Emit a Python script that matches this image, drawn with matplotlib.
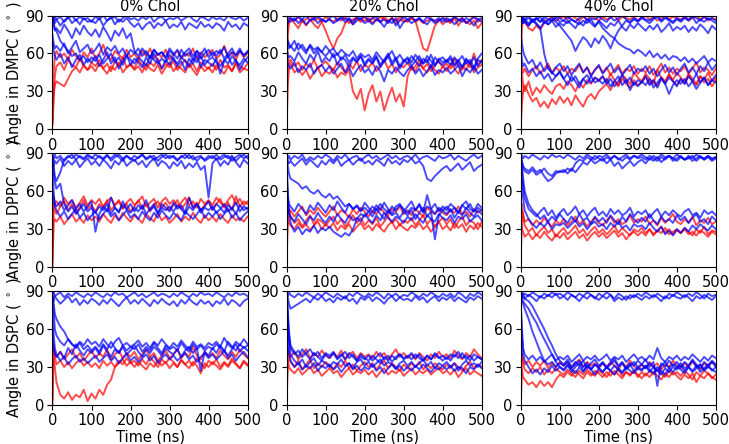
import numpy as np
import matplotlib
matplotlib.use("Agg")
import matplotlib.pyplot as plt

# sampling times (ns) used for every trace below
T = [0, 3, 6] + list(range(10, 501, 10))

lipids = ["DMPC", "DPPC", "DSPC"]
chol = ["0% Chol", "20% Chol", "40% Chol"]

# ---- DMPC ----
dmpc_0_red = [
    [3, 25, 42, 50, 53, 47, 55, 51, 49, 56, 50, 47, 53, 50, 55, 48, 52, 46, 54, 50, 57, 49, 52,
     48, 55, 51, 47, 53, 50, 56, 48, 52, 49, 54, 47, 51, 55, 49, 52, 46, 53, 50, 48,
     52, 47, 55, 49, 51, 46, 53, 50, 48, 52],
    [8, 45, 58, 62, 57, 60, 55, 63, 58, 54, 61, 57, 64, 56, 60, 67, 58, 55, 62, 59, 56, 63, 57,
     60, 55, 62, 58, 64, 56, 60, 57, 63, 55, 59, 62, 56, 60, 58, 64, 55, 61, 57, 60,
     63, 56, 59, 66, 58, 61, 55, 62, 57, 60],
    [5, 28, 35, 38, 36, 34, 40, 46, 49, 45, 51, 47, 50, 46, 52, 48, 44, 50, 47, 53, 45, 49, 51,
     47, 50, 45, 52, 48, 46, 51, 44, 49, 53, 46, 50, 48, 45, 52, 47, 43, 50, 46, 49,
     45, 51, 47, 44, 50, 46, 52, 45, 48, 47],
]
dmpc_0_blue = [
    [88, 86, 89, 87, 89, 85, 88, 90, 86, 89, 87, 88, 85, 89, 87, 90, 86, 88, 89, 85, 88, 90, 87,
     88, 86, 89, 87, 90, 85, 88, 89, 86, 88, 87, 89, 86, 88, 90, 87, 85, 89, 88, 86,
     89, 87, 88, 86, 90, 88, 87, 89, 86, 88],
    [85, 88, 84, 87, 82, 86, 89, 84, 87, 83, 88, 85, 86, 84, 88, 82, 86, 89, 83, 87, 85, 88, 84,
     81, 84, 79, 83, 85, 80, 84, 82, 86, 80, 83, 81, 85, 79, 84, 82, 80, 85, 81, 83,
     80, 84, 82, 78, 85, 81, 83, 79, 84, 82],
    [90, 82, 78, 80, 76, 83, 78, 72, 80, 75, 82, 77, 74, 79, 73, 81, 76, 70, 78, 74, 80, 72, 76,
     62, 58, 64, 60, 56, 63, 59, 61, 57, 64, 60, 56, 63, 58, 61, 55, 62, 59, 64, 57,
     61, 58, 63, 56, 60, 64, 58, 62, 59, 61],
    [90, 85, 80, 78, 70, 66, 62, 58, 60, 55, 58, 53, 57, 54, 59, 52, 56, 60, 53, 57, 51, 58, 55,
     52, 57, 54, 50, 58, 55, 52, 56, 53, 59, 55, 52, 57, 54, 50, 56, 53, 58, 51, 55,
     57, 53, 50, 55, 52, 58, 54, 51, 56, 53],
    [70, 62, 58, 55, 60, 52, 57, 49, 55, 59, 51, 56, 53, 58, 50, 55, 61, 52, 57, 48, 54, 59, 51,
     56, 53, 49, 57, 52, 60, 54, 48, 55, 51, 57, 50, 54, 47, 56, 52, 59, 49, 55, 53,
     50, 56, 44, 54, 58, 51, 55, 47, 53, 57],
    [75, 68, 64, 66, 62, 68, 60, 65, 70, 61, 64, 67, 60, 63, 68, 59, 65, 62, 66, 60, 64, 58, 63,
     60, 64, 58, 62, 57, 63, 59, 61, 56, 62, 59, 63, 57, 61, 64, 58, 62, 56, 60, 63,
     58, 62, 60, 65, 57, 61, 59, 64, 58, 62],
]
dmpc_20_red = [
    [50, 75, 85, 88, 84, 80, 86, 82, 87, 83, 80, 85, 78, 70, 64, 72, 76, 84, 87, 83, 88, 85, 86,
     88, 84, 87, 85, 89, 86, 88, 84, 87, 85, 86, 88, 85, 87, 84, 86, 88, 85, 87, 83,
     86, 84, 88, 82, 87, 85, 83, 86, 80, 84],
    [60, 80, 86, 88, 86, 89, 85, 87, 90, 86, 88, 85, 89, 87, 85, 88, 86, 89, 84, 87, 88, 86, 89,
     85, 88, 86, 89, 87, 85, 88, 86, 89, 87, 85, 88, 86, 75, 64, 62, 72, 82, 86, 88,
     87, 85, 89, 86, 88, 84, 87, 89, 85, 87],
    [0, 35, 48, 52, 45, 48, 43, 47, 40, 45, 49, 42, 46, 44, 48, 41, 45, 43, 47, 30, 24, 32, 15,
     28, 35, 22, 30, 15, 25, 33, 22, 28, 18, 42, 50, 46, 52, 48, 45, 51, 47, 44, 50,
     46, 52, 48, 44, 50, 47, 53, 45, 49, 51],
    [5, 58, 52, 55, 50, 53, 47, 52, 49, 55, 48, 51, 54, 50, 47, 53, 49, 45, 52, 48, 54, 46, 51,
     49, 53, 46, 50, 55, 48, 52, 45, 51, 49, 53, 47, 50, 55, 48, 52, 46, 51, 54, 49,
     52, 48, 56, 50, 47, 53, 49, 60, 51, 55],
]
dmpc_20_blue = [
    [85, 89, 87, 88, 86, 89, 87, 90, 86, 88, 89, 87, 85, 88, 90, 86, 89, 87, 88, 85, 89, 87, 90,
     86, 88, 89, 85, 87, 84, 88, 82, 86, 89, 87, 89, 86, 88, 85, 89, 87, 86, 88, 85,
     88, 86, 89, 87, 85, 88, 86, 89, 87, 88],
    [90, 84, 86, 85, 88, 84, 87, 83, 86, 88, 84, 87, 85, 87, 84, 86, 88, 85, 87, 83, 86, 88, 84,
     86, 83, 87, 85, 81, 86, 84, 88, 80, 85, 87, 84, 86, 88, 85, 83, 87, 84, 86, 88,
     85, 87, 83, 86, 88, 84, 86, 82, 87, 85],
    [75, 68, 64, 66, 62, 68, 64, 60, 67, 63, 65, 61, 66, 62, 64, 59, 63, 60, 58, 62, 56, 60, 57,
     59, 55, 61, 57, 53, 58, 62, 55, 59, 54, 57, 53, 59, 55, 52, 58, 54, 50, 56, 53,
     55, 51, 57, 53, 49, 55, 52, 57, 50, 54],
    [65, 60, 57, 58, 54, 61, 56, 52, 59, 55, 62, 53, 57, 54, 60, 51, 57, 55, 49, 56, 53, 58, 50,
     55, 52, 57, 49, 54, 58, 51, 55, 48, 53, 56, 50, 54, 58, 52, 55, 49, 57, 53, 51,
     54, 58, 51, 55, 49, 56, 52, 47, 55, 53],
    [60, 52, 50, 48, 53, 45, 50, 47, 52, 44, 49, 51, 46, 50, 44, 48, 52, 45, 49, 42, 47, 51, 45,
     48, 43, 50, 46, 38, 47, 44, 49, 45, 42, 47, 50, 44, 48, 42, 46, 50, 43, 47, 45,
     49, 44, 47, 51, 42, 48, 45, 50, 44, 47],
    [72, 70, 68, 65, 70, 63, 67, 62, 66, 60, 64, 61, 58, 62, 57, 60, 55, 59, 53, 57, 54, 58, 52,
     56, 53, 58, 51, 55, 60, 53, 57, 50, 55, 52, 58, 54, 50, 56, 53, 59, 51, 55, 57,
     53, 56, 50, 54, 58, 52, 55, 49, 56, 60],
]
dmpc_40_red = [
    [60, 80, 88, 85, 80, 78, 82, 79, 84, 87, 89, 86, 88, 89, 87, 90, 88, 86, 89, 87, 90, 88, 86,
     89, 87, 88, 90, 86, 89, 88, 87, 89, 86, 88, 90, 87, 89, 86, 88, 90, 87, 89, 88,
     87, 89, 86, 88, 90, 87, 89, 86, 88, 87],
    [2, 20, 30, 35, 28, 22, 25, 18, 22, 17, 24, 20, 26, 21, 25, 19, 27, 22, 18, 25, 28, 24, 30,
     33, 36, 31, 38, 34, 40, 36, 33, 39, 35, 37, 42, 36, 39, 34, 41, 37, 44, 38, 35,
     40, 36, 43, 38, 35, 42, 37, 40, 34, 39],
    [5, 45, 35, 30, 38, 27, 33, 29, 35, 31, 28, 34, 36, 32, 38, 35, 30, 37, 33, 39, 36, 41, 38,
     42, 37, 44, 39, 35, 43, 40, 36, 45, 41, 38, 44, 40, 36, 47, 41, 38, 43, 39, 45,
     41, 37, 44, 40, 36, 42, 39, 45, 38, 41],
    [55, 50, 45, 48, 42, 47, 50, 44, 48, 52, 45, 49, 46, 50, 44, 48, 46, 51, 45, 49, 43, 47, 50,
     45, 49, 43, 47, 51, 44, 48, 46, 50, 44, 48, 45, 50, 43, 47, 52, 45, 49, 44, 48,
     46, 50, 44, 48, 53, 45, 49, 47, 43, 48],
]
dmpc_40_blue = [
    [88, 85, 89, 87, 90, 86, 88, 85, 89, 87, 86, 89, 88, 86, 89, 87, 85, 88, 90, 86, 88, 87, 89,
     87, 85, 89, 86, 88, 90, 87, 85, 88, 86, 89, 87, 86, 88, 90, 86, 89, 87, 85, 88,
     86, 89, 87, 90, 88, 86, 89, 87, 88, 86],
    [89, 87, 88, 86, 88, 85, 87, 89, 84, 86, 88, 85, 82, 78, 74, 70, 62, 68, 73, 70, 65, 72, 68,
     74, 70, 64, 72, 78, 82, 86, 84, 87, 85, 88, 86, 84, 87, 89, 85, 88, 86, 84, 87,
     85, 88, 86, 89, 84, 87, 85, 88, 86, 84],
    [90, 88, 86, 87, 84, 86, 88, 85, 87, 83, 86, 88, 85, 86, 84, 87, 85, 83, 86, 84, 87, 82, 85,
     80, 77, 74, 72, 68, 66, 64, 63, 60, 63, 61, 58, 62, 57, 60, 56, 59, 55, 58, 57,
     54, 57, 53, 56, 52, 55, 58, 53, 56, 54],
    [85, 88, 84, 86, 82, 87, 84, 80, 85, 83, 86, 81, 84, 82, 86, 83, 80, 85, 82, 87, 84, 81, 86,
     83, 80, 84, 82, 86, 81, 78, 83, 80, 84, 81, 78, 82, 79, 83, 77, 80, 84, 78, 81,
     79, 82, 77, 81, 78, 83, 80, 76, 82, 79],
    [75, 68, 62, 58, 52, 55, 48, 53, 46, 50, 44, 49, 52, 46, 50, 43, 48, 52, 45, 49, 42, 47, 51,
     44, 48, 52, 45, 49, 43, 47, 51, 44, 48, 46, 50, 44, 48, 42, 47, 51, 45, 49, 43,
     48, 52, 45, 49, 44, 50, 46, 53, 47, 51],
    [65, 55, 50, 52, 45, 48, 42, 46, 40, 44, 38, 42, 45, 40, 35, 42, 38, 33, 40, 36, 42, 37, 39,
     42, 36, 40, 34, 38, 43, 37, 41, 35, 39, 37, 42, 35, 39, 33, 40, 36, 41, 38, 34,
     40, 36, 42, 38, 44, 37, 41, 35, 39, 43],
    [88, 86, 84, 85, 82, 86, 83, 80, 60, 48, 45, 42, 46, 40, 44, 38, 42, 36, 40, 43, 37, 41, 39,
     36, 40, 34, 38, 42, 35, 39, 31, 37, 34, 38, 35, 40, 33, 37, 41, 36, 28, 35, 39,
     36, 40, 34, 38, 32, 37, 41, 35, 39, 37],
]

# ---- DPPC ----
dppc_0_red = [
    [5, 50, 45, 42, 48, 52, 45, 50, 43, 47, 53, 46, 49, 44, 50, 47, 53, 45, 49, 52, 46, 50, 44,
     48, 53, 46, 50, 44, 49, 52, 47, 51, 45, 49, 53, 46, 50, 55, 47, 51, 45, 49, 52,
     46, 50, 54, 47, 51, 45, 56, 48, 52, 50],
    [0, 35, 38, 36, 40, 34, 38, 42, 36, 39, 35, 41, 37, 40, 36, 42, 38, 35, 41, 37, 43, 39, 36,
     41, 38, 35, 42, 39, 36, 43, 37, 40, 35, 38, 42, 36, 40, 37, 43, 38, 35, 41, 37,
     40, 36, 42, 38, 35, 41, 37, 39, 36, 40],
    [10, 55, 50, 52, 48, 55, 50, 53, 47, 51, 56, 49, 53, 50, 54, 48, 52, 55, 49, 53, 47, 51, 54,
     49, 52, 56, 48, 51, 54, 47, 52, 55, 50, 53, 48, 51, 55, 49, 52, 47, 54, 50, 53,
     49, 55, 51, 48, 53, 57, 50, 54, 49, 52],
]
dppc_0_blue = [
    [88, 85, 89, 86, 88, 84, 87, 89, 85, 88, 86, 89, 87, 85, 88, 86, 89, 84, 87, 89, 86, 88, 85,
     88, 86, 89, 85, 87, 88, 84, 87, 89, 86, 88, 85, 87, 89, 86, 88, 84, 87, 85, 88,
     86, 89, 85, 87, 88, 84, 87, 89, 86, 88],
    [85, 80, 84, 82, 86, 80, 84, 81, 85, 79, 83, 86, 81, 84, 80, 85, 82, 78, 84, 81, 86, 80, 83,
     85, 81, 84, 79, 83, 86, 80, 84, 82, 78, 83, 80, 84, 78, 82, 79, 83, 77, 80, 55,
     82, 86, 80, 84, 81, 87, 83, 79, 85, 82],
    [90, 75, 68, 62, 66, 50, 44, 48, 42, 46, 50, 44, 47, 43, 48, 45, 50, 42, 47, 44, 49, 46, 43,
     47, 44, 49, 42, 46, 50, 43, 47, 45, 48, 44, 49, 46, 42, 48, 45, 50, 43, 47, 45,
     48, 43, 46, 50, 44, 47, 42, 49, 45, 47],
    [60, 55, 50, 48, 52, 45, 49, 53, 46, 50, 44, 48, 52, 28, 42, 48, 44, 55, 47, 43, 52, 46, 50,
     44, 49, 46, 53, 45, 48, 42, 50, 47, 44, 51, 46, 49, 43, 55, 47, 50, 45, 48, 52,
     45, 50, 47, 43, 49, 46, 51, 44, 48, 46],
    [80, 60, 48, 45, 40, 44, 38, 42, 46, 39, 43, 37, 41, 44, 38, 42, 46, 40, 43, 37, 41, 45, 39,
     42, 38, 44, 40, 37, 43, 39, 45, 41, 38, 43, 40, 37, 44, 41, 38, 42, 46, 39, 43,
     40, 44, 38, 42, 46, 39, 43, 37, 41, 44],
    [88, 80, 72, 68, 75, 85, 88, 86, 89, 87, 85, 88, 86, 89, 87, 85, 88, 86, 89, 87, 84, 88, 86,
     84, 87, 89, 86, 88, 85, 87, 89, 86, 88, 87, 84, 88, 86, 89, 85, 87, 88, 84, 86,
     88, 85, 87, 89, 86, 88, 84, 87, 89, 86],
]
dppc_20_red = [
    [5, 52, 45, 40, 35, 38, 32, 37, 41, 34, 38, 36, 33, 37, 40, 34, 38, 32, 36, 41, 35, 39, 33,
     37, 34, 39, 32, 36, 40, 35, 38, 33, 37, 35, 39, 33, 37, 41, 34, 38, 32, 36, 39,
     34, 38, 31, 36, 40, 33, 37, 35, 30, 36],
    [15, 48, 42, 45, 40, 44, 48, 41, 45, 42, 47, 43, 40, 44, 48, 41, 45, 43, 39, 46, 42, 47, 44,
     40, 45, 42, 47, 43, 41, 46, 44, 48, 42, 45, 41, 46, 43, 40, 47, 44, 42, 46, 43,
     41, 45, 43, 48, 42, 44, 40, 46, 43, 45],
    [0, 40, 35, 33, 30, 35, 31, 34, 29, 33, 36, 30, 34, 31, 35, 29, 33, 30, 34, 28, 32, 35, 30,
     33, 29, 34, 31, 28, 33, 36, 30, 34, 31, 29, 33, 31, 35, 30, 33, 28, 32, 36, 30,
     33, 29, 35, 31, 34, 28, 33, 30, 35, 32],
]
dppc_20_blue = [
    [90, 86, 88, 85, 88, 86, 89, 84, 87, 85, 88, 86, 89, 87, 84, 88, 86, 89, 85, 87, 88, 84, 87,
     89, 86, 88, 85, 87, 89, 86, 88, 85, 87, 88, 86, 89, 85, 87, 88, 86, 84, 88, 86,
     87, 89, 85, 88, 86, 84, 87, 89, 86, 88],
    [88, 84, 82, 84, 80, 83, 86, 81, 85, 82, 79, 84, 81, 85, 82, 86, 80, 83, 85, 81, 84, 86, 82,
     84, 81, 85, 83, 80, 86, 82, 84, 81, 85, 83, 86, 82, 84, 80, 70, 68, 72, 75, 78,
     80, 76, 79, 82, 77, 80, 83, 76, 79, 81],
    [90, 80, 74, 70, 68, 66, 62, 64, 60, 58, 61, 57, 55, 58, 54, 56, 52, 48, 50, 46, 49, 45, 47,
     44, 48, 45, 50, 46, 43, 48, 45, 49, 46, 43, 47, 45, 50, 44, 48, 46, 42, 47, 45,
     48, 44, 47, 43, 49, 46, 50, 44, 47, 45],
    [85, 60, 45, 35, 28, 32, 26, 30, 28, 33, 27, 31, 29, 32, 28, 26, 24, 27, 25, 30, 38, 42, 40,
     44, 40, 46, 42, 38, 45, 41, 43, 39, 44, 41, 45, 38, 43, 47, 40, 44, 22, 41, 45,
     42, 46, 39, 44, 41, 47, 43, 40, 45, 42],
    [75, 55, 50, 48, 44, 50, 46, 42, 49, 45, 51, 47, 43, 49, 45, 52, 47, 43, 50, 46, 48, 44, 51,
     47, 43, 49, 45, 51, 46, 42, 48, 50, 44, 48, 52, 45, 49, 43, 57, 46, 50, 44, 48,
     45, 50, 47, 43, 49, 52, 46, 44, 50, 47],
    [70, 50, 42, 40, 36, 42, 38, 34, 40, 37, 43, 38, 35, 40, 36, 42, 38, 35, 41, 37, 39, 36, 42,
     38, 35, 41, 37, 43, 39, 36, 40, 38, 35, 40, 37, 42, 38, 35, 41, 38, 36, 42, 39,
     37, 41, 35, 40, 38, 42, 36, 39, 41, 37],
]
dppc_40_red = [
    [8, 50, 40, 33, 28, 31, 25, 29, 32, 27, 30, 24, 28, 31, 26, 29, 33, 27, 30, 25, 29, 32, 27,
     30, 26, 29, 33, 27, 31, 28, 25, 30, 28, 31, 27, 30, 25, 29, 32, 27, 30, 26, 29,
     27, 31, 28, 25, 30, 27, 32, 26, 29, 28],
    [5, 45, 42, 36, 38, 33, 37, 34, 39, 35, 32, 37, 34, 38, 33, 36, 40, 34, 37, 32, 36, 39, 35,
     33, 37, 40, 35, 38, 34, 36, 41, 35, 38, 36, 40, 34, 37, 33, 39, 35, 38, 42, 36,
     34, 38, 35, 40, 33, 37, 35, 39, 34, 36],
    [40, 30, 28, 24, 27, 22, 26, 23, 28, 24, 21, 26, 23, 27, 22, 25, 28, 23, 26, 21, 25, 28, 24,
     27, 23, 26, 29, 24, 27, 22, 26, 28, 25, 28, 25, 30, 26, 29, 27, 31, 26, 28, 30,
     27, 30, 26, 28, 25, 29, 27, 24, 28, 26],
]
dppc_40_blue = [
    [90, 88, 86, 88, 86, 89, 87, 85, 88, 86, 89, 87, 88, 86, 89, 87, 85, 88, 86, 89, 87, 85, 88,
     87, 89, 86, 88, 85, 87, 89, 86, 88, 87, 89, 87, 85, 88, 86, 89, 87, 88, 86, 89,
     87, 85, 88, 86, 89, 87, 86, 88, 85, 87],
    [88, 84, 80, 78, 76, 79, 75, 77, 72, 68, 70, 74, 76, 75, 78, 76, 82, 85, 84, 87, 85, 88, 86,
     84, 87, 85, 88, 86, 84, 87, 85, 88, 86, 87, 85, 88, 86, 84, 87, 85, 88, 86, 84,
     87, 85, 86, 88, 84, 87, 85, 88, 86, 87],
    [86, 82, 78, 76, 74, 77, 73, 75, 78, 74, 72, 76, 75, 77, 74, 78, 75, 79, 83, 81, 85, 82, 84,
     86, 82, 85, 80, 83, 78, 81, 84, 80, 83, 85, 82, 86, 84, 87, 83, 86, 88, 84, 86,
     88, 85, 87, 84, 86, 88, 85, 87, 84, 86],
    [90, 80, 70, 60, 50, 45, 42, 38, 41, 36, 40, 37, 42, 38, 35, 40, 36, 42, 37, 39, 34, 40, 36,
     39, 35, 41, 37, 34, 40, 36, 42, 38, 35, 39, 36, 42, 37, 34, 40, 36, 38, 35, 41,
     37, 40, 35, 39, 42, 36, 38, 34, 40, 37],
    [85, 75, 65, 55, 46, 43, 40, 44, 47, 41, 45, 39, 43, 46, 41, 44, 48, 42, 45, 40, 44, 47, 41,
     44, 40, 46, 42, 45, 41, 43, 47, 40, 44, 42, 45, 39, 43, 46, 40, 44, 41, 45, 42,
     40, 44, 46, 41, 43, 39, 45, 42, 44, 41],
    [80, 65, 55, 45, 38, 34, 31, 35, 32, 36, 30, 34, 33, 35, 31, 34, 37, 32, 35, 30, 34, 36, 32,
     34, 30, 35, 32, 36, 31, 33, 29, 34, 32, 33, 30, 35, 31, 28, 32, 26, 29, 25, 30,
     27, 31, 28, 33, 30, 34, 31, 29, 33, 30],
]

# ---- DSPC ----
dspc_0_red = [
    [5, 45, 40, 38, 42, 36, 40, 44, 37, 41, 35, 39, 43, 37, 41, 38, 44, 36, 40, 43, 37, 41, 38,
     42, 36, 40, 44, 38, 41, 35, 39, 43, 37, 40, 44, 37, 41, 38, 46, 39, 36, 42, 38,
     41, 37, 43, 39, 36, 42, 38, 44, 40, 37],
    [40, 35, 30, 18, 8, 5, 10, 4, 8, 6, 12, 3, 9, 5, 12, 8, 16, 20, 30, 35, 32, 37, 33,
     35, 31, 36, 32, 38, 34, 30, 36, 33, 37, 34, 30, 36, 32, 35, 31, 37, 33, 29, 35,
     32, 36, 30, 34, 31, 37, 33, 29, 35, 32],
    [0, 48, 38, 32, 35, 30, 34, 29, 33, 36, 31, 34, 30, 33, 29, 35, 31, 34, 30, 33, 36, 31, 34,
     30, 34, 31, 28, 33, 30, 35, 31, 34, 29, 33, 30, 35, 32, 29, 34, 31, 25, 33, 30,
     34, 31, 28, 33, 30, 35, 32, 29, 34, 31],
]
dspc_0_blue = [
    [88, 90, 86, 87, 89, 85, 88, 86, 89, 87, 85, 88, 86, 89, 87, 85, 88, 86, 89, 87, 88, 85, 87,
     89, 86, 88, 85, 87, 89, 86, 88, 87, 85, 88, 86, 89, 87, 85, 88, 86, 89, 87, 88,
     86, 89, 87, 85, 88, 86, 89, 87, 88, 86],
    [85, 82, 86, 84, 80, 83, 86, 81, 84, 79, 83, 80, 84, 82, 79, 83, 80, 84, 81, 78, 82, 85, 80,
     83, 80, 84, 81, 78, 83, 80, 84, 81, 79, 82, 78, 83, 80, 84, 81, 79, 83, 80, 82,
     78, 82, 80, 84, 79, 83, 81, 78, 82, 84],
    [90, 80, 72, 68, 62, 58, 52, 48, 45, 49, 44, 47, 43, 46, 42, 48, 44, 50, 45, 41, 47, 43, 46,
     44, 48, 42, 46, 43, 49, 45, 41, 47, 44, 46, 43, 49, 45, 42, 48, 44, 47, 43, 46,
     44, 48, 45, 42, 50, 46, 43, 48, 45, 47],
    [60, 45, 40, 38, 42, 37, 45, 40, 48, 43, 39, 44, 41, 45, 40, 47, 42, 38, 44, 41, 46, 40, 43,
     47, 42, 38, 44, 41, 46, 43, 39, 45, 42, 40, 44, 38, 43, 46, 41, 45, 27, 42, 39,
     45, 41, 47, 43, 39, 44, 48, 42, 46, 43],
    [75, 55, 45, 40, 35, 38, 32, 36, 39, 34, 37, 33, 36, 39, 34, 37, 40, 35, 38, 33, 37, 40, 35,
     38, 34, 37, 40, 35, 39, 33, 37, 40, 36, 39, 35, 38, 41, 36, 39, 34, 38, 41, 37,
     40, 36, 39, 43, 37, 40, 35, 39, 42, 38],
    [85, 75, 60, 55, 50, 47, 52, 48, 46, 50, 47, 52, 48, 50, 46, 52, 48, 45, 50, 53, 47, 49, 46,
     48, 51, 46, 49, 45, 50, 47, 52, 48, 45, 49, 46, 51, 47, 44, 50, 46, 48, 45, 49,
     47, 50, 46, 53, 48, 45, 50, 47, 52, 48],
]
dspc_20_red = [
    [5, 42, 38, 34, 30, 35, 28, 32, 36, 29, 33, 30, 34, 31, 28, 33, 30, 35, 29, 32, 27, 31, 34,
     30, 33, 28, 32, 35, 29, 33, 30, 27, 32, 29, 33, 30, 34, 28, 32, 29, 33, 30, 28,
     32, 29, 33, 30, 27, 31, 34, 29, 32, 30],
    [10, 45, 40, 38, 42, 36, 40, 44, 37, 41, 38, 43, 39, 37, 41, 38, 43, 36, 40, 42, 37, 41, 38,
     40, 37, 42, 38, 41, 36, 40, 44, 38, 41, 37, 40, 36, 41, 38, 35, 40, 37, 42, 38,
     40, 37, 43, 39, 36, 41, 38, 44, 40, 37],
    [0, 35, 30, 28, 25, 29, 24, 27, 30, 25, 28, 23, 26, 29, 25, 27, 22, 26, 29, 24, 27, 25, 28,
     24, 27, 22, 26, 29, 24, 27, 25, 28, 23, 26, 29, 24, 27, 25, 28, 24, 27, 29, 25,
     27, 24, 28, 22, 26, 29, 24, 27, 25, 23],
]
dspc_20_blue = [
    [88, 86, 89, 87, 85, 88, 86, 89, 87, 85, 88, 86, 89, 87, 85, 88, 86, 84, 88, 86, 89, 87, 85,
     88, 86, 89, 87, 84, 88, 86, 88, 85, 87, 86, 89, 87, 85, 88, 86, 89, 87, 85, 88,
     86, 88, 85, 89, 87, 84, 88, 86, 89, 87],
    [90, 85, 80, 76, 78, 80, 82, 84, 81, 85, 83, 86, 82, 84, 81, 85, 83, 86, 82, 84, 80, 85, 83,
     86, 82, 85, 83, 80, 84, 86, 82, 85, 83, 84, 82, 86, 83, 85, 81, 84, 86, 82, 85,
     83, 86, 82, 85, 83, 81, 85, 83, 86, 84],
    [90, 75, 58, 47, 42, 38, 44, 40, 36, 41, 38, 35, 40, 37, 41, 36, 39, 42, 37, 40, 35, 38, 36,
     39, 35, 38, 41, 36, 39, 34, 38, 40, 36, 38, 41, 37, 40, 35, 39, 36, 40, 37, 39,
     36, 40, 38, 42, 37, 39, 35, 40, 38, 36],
    [85, 65, 50, 40, 35, 32, 36, 30, 34, 37, 31, 35, 33, 30, 34, 32, 36, 31, 33, 29, 34, 36, 31,
     34, 30, 33, 36, 31, 34, 32, 29, 33, 35, 31, 34, 30, 33, 36, 31, 34, 29, 33, 31,
     34, 30, 33, 27, 32, 35, 31, 33, 30, 34],
    [80, 55, 42, 35, 30, 33, 28, 31, 29, 33, 27, 31, 29, 32, 28, 31, 26, 30, 33, 28, 31, 27, 30,
     28, 32, 27, 30, 25, 29, 32, 28, 31, 27, 30, 27, 31, 28, 32, 29, 26, 30, 28, 31,
     28, 31, 27, 30, 29, 25, 30, 28, 32, 29],
    [88, 70, 55, 45, 40, 43, 38, 41, 44, 39, 42, 37, 41, 39, 42, 37, 40, 36, 41, 38, 35, 40, 37,
     35, 39, 36, 33, 38, 35, 39, 36, 40, 37, 39, 36, 40, 37, 35, 39, 36, 41, 38, 35,
     38, 35, 40, 37, 41, 36, 39, 35, 38, 36],
]
dspc_40_red = [
    [5, 40, 32, 28, 25, 29, 26, 30, 24, 28, 25, 29, 26, 24, 28, 25, 22, 27, 24, 28, 25, 23, 27,
     25, 22, 27, 24, 28, 23, 26, 24, 27, 22, 26, 23, 27, 24, 28, 25, 22, 27, 24, 26,
     23, 27, 24, 20, 26, 23, 27, 25, 21, 24],
    [45, 38, 35, 32, 35, 30, 34, 31, 35, 29, 33, 30, 34, 31, 34, 29, 33, 36, 30, 34, 31, 33, 29,
     33, 30, 34, 31, 28, 33, 30, 35, 31, 28, 32, 29, 34, 30, 33, 28, 32, 30, 35, 31,
     29, 33, 30, 34, 31, 28, 33, 30, 34, 31],
    [0, 28, 22, 20, 16, 18, 14, 19, 15, 18, 14, 20, 24, 22, 26, 23, 27, 24, 21, 26, 23, 27, 25,
     22, 26, 23, 27, 24, 21, 26, 23, 27, 24, 21, 25, 22, 26, 23, 20, 25, 22, 26, 23,
     20, 24, 21, 25, 18, 23, 21, 25, 22, 20],
]
dspc_40_blue = [
    [86, 89, 87, 88, 86, 89, 87, 85, 88, 86, 89, 87, 88, 86, 89, 87, 85, 88, 86, 89, 87, 84, 88,
     86, 89, 87, 84, 88, 86, 83, 87, 85, 88, 86, 89, 87, 85, 88, 86, 84, 88, 86, 89,
     87, 85, 88, 86, 89, 87, 84, 88, 86, 87],
    [90, 85, 88, 84, 87, 85, 82, 86, 84, 87, 85, 88, 84, 86, 83, 87, 85, 82, 86, 84, 87, 85, 83,
     86, 84, 87, 82, 85, 83, 86, 84, 87, 85, 83, 86, 84, 87, 85, 82, 86, 84, 87, 85,
     84, 87, 85, 82, 86, 84, 87, 85, 83, 86],
    [85, 82, 80, 76, 68, 58, 50, 42, 35, 32, 34, 30, 33, 31, 34, 29, 32, 35, 30, 33, 28, 32, 30,
     33, 29, 32, 35, 30, 33, 28, 31, 34, 30, 32, 29, 33, 30, 27, 31, 34, 29, 32, 30,
     33, 29, 31, 35, 30, 32, 28, 31, 34, 30],
    [88, 86, 85, 84, 82, 78, 72, 66, 60, 53, 47, 40, 35, 32, 36, 30, 34, 31, 35, 29, 33, 36, 31,
     34, 30, 33, 37, 31, 34, 29, 33, 31, 35, 32, 36, 30, 34, 15, 33, 30, 35, 31, 34,
     30, 34, 31, 36, 32, 29, 34, 31, 35, 32],
    [90, 84, 82, 80, 76, 70, 65, 58, 52, 46, 40, 34, 30, 28, 32, 26, 30, 33, 27, 31, 28, 32, 29,
     26, 30, 27, 31, 28, 25, 29, 32, 27, 30, 28, 31, 26, 30, 27, 24, 29, 26, 30, 28,
     31, 27, 30, 26, 29, 32, 27, 30, 28, 26],
    [75, 55, 40, 35, 30, 25, 28, 24, 29, 26, 31, 27, 30, 27, 31, 28, 25, 30, 26, 31, 28, 24, 29,
     26, 30, 27, 24, 29, 26, 30, 27, 25, 29, 27, 31, 28, 25, 30, 27, 24, 29, 26, 30,
     28, 25, 30, 27, 31, 26, 29, 32, 27, 30],
    [80, 60, 45, 40, 36, 39, 35, 38, 34, 37, 40, 35, 38, 36, 39, 34, 37, 40, 35, 38, 36, 39, 35,
     37, 40, 35, 38, 36, 39, 34, 37, 40, 36, 38, 35, 39, 36, 45, 37, 34, 38, 36, 39,
     35, 38, 36, 40, 37, 34, 38, 35, 39, 37],
]

grid = [
    [(dmpc_0_red, dmpc_0_blue), (dmpc_20_red, dmpc_20_blue), (dmpc_40_red, dmpc_40_blue)],
    [(dppc_0_red, dppc_0_blue), (dppc_20_red, dppc_20_blue), (dppc_40_red, dppc_40_blue)],
    [(dspc_0_red, dspc_0_blue), (dspc_20_red, dspc_20_blue), (dspc_40_red, dspc_40_blue)],
]

fig, axes = plt.subplots(3, 3, figsize=(7.29, 4.44), dpi=100)
plt.subplots_adjust(left=0.072, right=0.982, bottom=0.088, top=0.965,
                    wspace=0.2, hspace=0.21)

for i in range(3):
    for j in range(3):
        ax = axes[i, j]
        reds, blues = grid[i][j]
        for y in reds:
            ax.plot(T[:len(y)], y, color="red", lw=1.4, alpha=0.7)
        for y in blues:
            ax.plot(T[:len(y)], y, color="blue", lw=1.4, alpha=0.7)
        ax.set_xlim(0, 500)
        ax.set_ylim(0, 90)
        ax.set_xticks([0, 100, 200, 300, 400, 500])
        ax.set_yticks([0, 30, 60, 90])
        ax.tick_params(labelsize=10.5, pad=2.5)
        if i == 0:
            ax.set_title(chol[j], fontsize=10.5, pad=3)
        if i == 2:
            ax.set_xlabel("Time (ns)", fontsize=10.5, labelpad=1)
        if j == 0:
            ax.set_ylabel("Angle in " + lipids[i] + r" ( $^\circ$ )", fontsize=10.5, labelpad=1)

fig.savefig("out.png", dpi=100)
